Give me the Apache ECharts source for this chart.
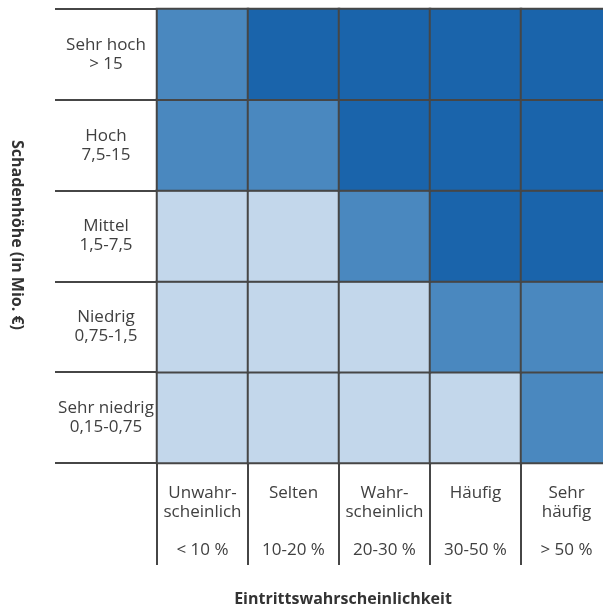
<!DOCTYPE html>
<html>
<head>
<meta charset="utf-8">
<script src="https://cdn.jsdelivr.net/npm/echarts@6/dist/echarts.min.js"></script>
<style>
html,body{margin:0;padding:0;background:#fff;}
#chart{width:603px;height:605px;}
</style>
</head>
<body>
<div id="chart"></div>
<script>
// Columns: probability of occurrence
const xCategories = [
  'Unwahr-\nscheinlich\n\n< 10 %',
  'Selten\n\n\n10-20 %',
  'Wahr-\nscheinlich\n\n20-30 %',
  'Häufig\n\n\n30-50 %',
  'Sehr\nhäufig\n\n> 50 %'
];
// Rows: damage amount (bottom to top)
const yCategories = [
  'Sehr niedrig\n0,15-0,75',
  'Niedrig\n0,75-1,5',
  'Mittel\n1,5-7,5',
  'Hoch\n7,5-15',
  'Sehr hoch\n> 15'
];
// Risk level per row (1 = low, 2 = medium, 3 = high), left to right
const sehrNiedrig = [1, 1, 1, 1, 2];
const niedrig     = [1, 1, 1, 2, 2];
const mittel      = [1, 1, 2, 3, 3];
const hoch        = [2, 2, 3, 3, 3];
const sehrHoch    = [2, 3, 3, 3, 3];
const rows = [sehrNiedrig, niedrig, mittel, hoch, sehrHoch];

const yTitle = 'Schadenhöhe (in Mio. €)';
const xTitle = 'Eintrittswahrscheinlichkeit';

const data = [];
rows.forEach((row, yi) => row.forEach((v, xi) => data.push([xi, yi, v])));

const lineColor = '#464646';
const textColor = '#404040';
const font = 'Open Sans';

const chart = echarts.init(document.getElementById('chart'), null, {renderer: 'canvas'});
chart.setOption({
  animation: false,
  grid: {left: 157, top: 9, width: 455, height: 454, outerBoundsMode: 'none', containLabel: false},
  xAxis: {
    type: 'category',
    data: xCategories,
    boundaryGap: true,
    axisLine: {show: false},
    axisTick: {show: true, length: 102, interval: 0, lineStyle: {color: lineColor, width: 2}},
    axisLabel: {
      interval: 0, margin: 21, color: textColor, fontFamily: font, fontSize: 17,
      lineHeight: 19, verticalAlign: 'top', align: 'center'
    },
    splitLine: {show: false}
  },
  yAxis: {
    type: 'category',
    data: yCategories,
    boundaryGap: true,
    axisLine: {show: false},
    axisTick: {show: true, length: 102, interval: 0, lineStyle: {color: lineColor, width: 2}},
    axisLabel: {
      interval: 0, margin: 51, color: textColor, fontFamily: font, fontSize: 17,
      lineHeight: 19, align: 'center', verticalAlign: 'middle'
    },
    splitLine: {show: false}
  },
  visualMap: {
    show: false,
    type: 'piecewise',
    dimension: 2,
    pieces: [
      {value: 1, color: '#c3d7eb'},
      {value: 2, color: '#4a88bf'},
      {value: 3, color: '#1a64ab'}
    ]
  },
  series: [{
    type: 'heatmap',
    data: data,
    itemStyle: {borderColor: lineColor, borderWidth: 2},
    label: {show: false},
    emphasis: {disabled: true}
  }],
  graphic: [
    {
      type: 'text', x: 17, y: 235, rotation: -Math.PI / 2,
      style: {text: yTitle, fill: '#333', font: 'bold 16px "Open Sans"', align: 'center', verticalAlign: 'middle'}
    },
    {
      type: 'text', x: 343, y: 599,
      style: {text: xTitle, fill: '#333', font: 'bold 16px "Open Sans"', align: 'center', verticalAlign: 'middle'}
    }
  ]
});
</script>
</body>
</html>
